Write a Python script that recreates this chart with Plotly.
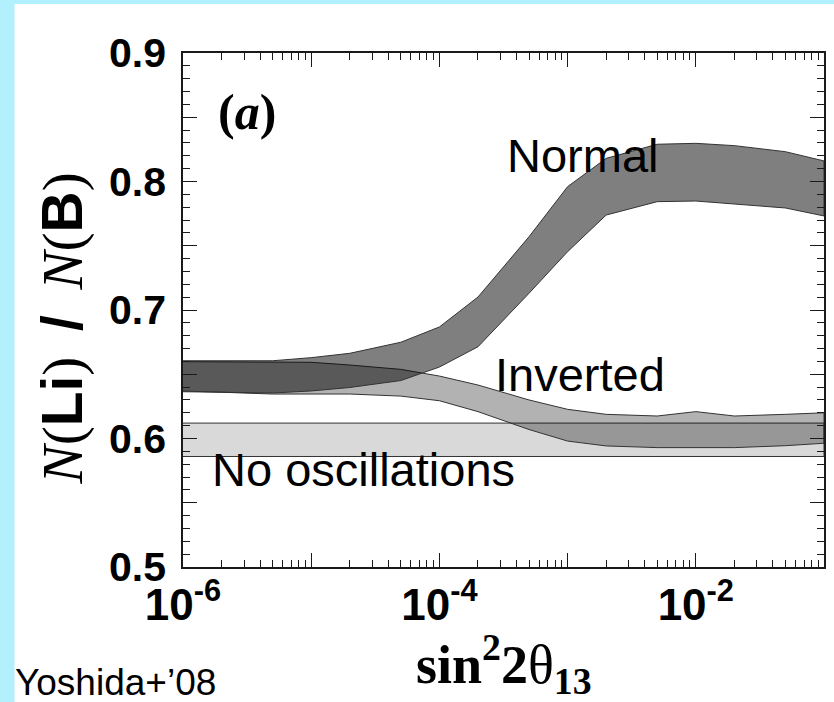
import plotly.graph_objects as go

# ---- data ----
sin2 = [1e-6, 2e-6, 5e-6, 1e-5, 2e-5, 5e-5, 1e-4, 2e-4, 5e-4,
        1e-3, 2e-3, 5e-3, 1e-2, 2e-2, 5e-2, 1e-1]
normal_upper = [0.6605, 0.6605, 0.6605, 0.6629, 0.6663, 0.6749, 0.6868, 0.7101, 0.757,
                0.796, 0.818, 0.829, 0.8297, 0.8279, 0.8232, 0.816]
normal_lower = [0.637, 0.636, 0.6354, 0.637, 0.6397, 0.6451, 0.6556, 0.6714, 0.713,
                0.7454, 0.7739, 0.7843, 0.7848, 0.7825, 0.7794, 0.7732]
inverted_upper = [0.6598, 0.6598, 0.6598, 0.6593, 0.6572, 0.6538, 0.6486, 0.6416, 0.630,
                  0.6227, 0.6188, 0.6175, 0.6209, 0.6175, 0.6188, 0.620]
inverted_lower = [0.6364, 0.636, 0.6346, 0.6346, 0.6346, 0.633, 0.6294, 0.6209, 0.607,
                  0.598, 0.5942, 0.5929, 0.593, 0.5929, 0.5944, 0.5963]
noosc_x = [1e-6, 1e-1]
noosc_upper = [0.612, 0.612]
noosc_lower = [0.586, 0.586]

x_tickvals = [1e-6, 1e-5, 1e-4, 1e-3, 1e-2, 1e-1]
x_ticktext = ["10<sup>-6</sup>", "", "10<sup>-4</sup>", "", "10<sup>-2</sup>", ""]
y_tickvals = [0.5, 0.55, 0.6, 0.65, 0.7, 0.75, 0.8, 0.85, 0.9]
y_ticktext = ["0.5", "", "0.6", "", "0.7", "", "0.8", "", "0.9"]

AX = "#1a1a1a"
ARIAL = "Liberation Sans, Arial, sans-serif"
TIMES = "Liberation Serif, Times New Roman, serif"


def band(xs, up, lo, fill, name):
    return go.Scatter(
        x=list(xs) + list(xs)[::-1],
        y=list(up) + list(lo)[::-1],
        mode="lines", fill="toself", fillcolor=fill,
        line=dict(color="#333333", width=1),
        name=name, showlegend=False, hoverinfo="skip",
    )


fig = go.Figure()
fig.add_trace(band(noosc_x, noosc_upper, noosc_lower, "rgba(0,0,0,0.15)", "No oscillations"))
fig.add_trace(band(sin2, inverted_upper, inverted_lower, "rgba(0,0,0,0.30)", "Inverted"))
fig.add_trace(band(sin2, normal_upper, normal_lower, "rgba(0,0,0,0.50)", "Normal"))

minor_x = [m * 10.0 ** e for e in range(-6, -1) for m in range(2, 10)]

W, H = 834, 702
L, R, T, B = 183, 8, 53, 135
pw, ph = W - L - R, H - T - B


def px(xp):
    return (xp - L) / pw


def py(yp):
    return (H - B - yp) / ph


fig.update_layout(
    width=W, height=H, autosize=False,
    margin=dict(l=L, r=R, t=T, b=B, pad=0),
    paper_bgcolor="white", plot_bgcolor="white",
    showlegend=False,
    xaxis=dict(
        type="log", range=[-6, -1],
        showline=True, linecolor=AX, linewidth=1.6, mirror="allticks",
        ticks="inside", ticklen=14, tickwidth=1.2, tickcolor=AX,
        tickmode="array", tickvals=x_tickvals,
        ticktext=["<b>%s</b>" % t if t else "" for t in x_ticktext],
        tickfont=dict(family=ARIAL, size=44, color="black"),
        ticklabelstandoff=-2,
        showgrid=False, zeroline=False,
        minor=dict(ticks="inside", ticklen=7, tickwidth=1.2, tickcolor=AX,
                   tickvals=minor_x, showgrid=False),
    ),
    yaxis=dict(
        range=[0.5, 0.9],
        showline=True, linecolor=AX, linewidth=1.6, mirror="allticks",
        ticks="inside", ticklen=14, tickwidth=1.2, tickcolor=AX,
        tickmode="array", tickvals=y_tickvals,
        ticktext=["<b>%s</b>" % t if t else "" for t in y_ticktext],
        tickfont=dict(family=ARIAL, size=41, color="black"),
        ticklabelstandoff=7,
        showgrid=False, zeroline=False,
        minor=dict(ticks="inside", ticklen=7, tickwidth=1.2, tickcolor=AX,
                   dtick=0.01, showgrid=False),
    ),
    shapes=[
        dict(type="rect", xref="paper", yref="paper", layer="below",
             x0=px(-20), x1=px(14), y0=py(H + 20), y1=py(-20),
             fillcolor="#b3f0fe", line=dict(width=0)),
        dict(type="rect", xref="paper", yref="paper", layer="below",
             x0=px(-20), x1=px(W + 20), y0=py(4), y1=py(-20),
             fillcolor="#b3f0fe", line=dict(width=0)),
    ],
)


def note(text, xp, yp, family, size, xanchor="center"):
    return dict(text=text, x=px(xp), y=py(yp), xref="paper", yref="paper",
                xanchor=xanchor, yanchor="middle", showarrow=False,
                font=dict(family=family, size=size, color="black"))


ann = [
    note("<b>(<i>a</i>)</b>", 247, 112, TIMES, 50),
    note("Normal", 584, 156, ARIAL, 47),
    note("Inverted", 581, 374, ARIAL, 47),
    note("No oscillations", 364, 469, ARIAL, 47),
    note("Yoshida+\u201908", 12, 682, ARIAL, 37, xanchor="left"),
    note("<b>sin<sup>2</sup>2</b>\u03b8<b><sub>13</sub></b>", 505, 664, TIMES, 54),
]
SANS = "<span style=\"font-family:'Liberation Sans'\"><b>%s</b></span>"
ytitle = ("<i>N</i>(" + SANS % "Li" + ")\u00a0\u2009" + SANS % "/" +
          "\u00a0\u2009<i>N</i>(" + SANS % "B" + ")")
yt = note(ytitle, 62, 328, TIMES, 57)
yt["textangle"] = -90
ann.append(yt)
fig.update_layout(annotations=ann)

fig.write_html("out.html")
